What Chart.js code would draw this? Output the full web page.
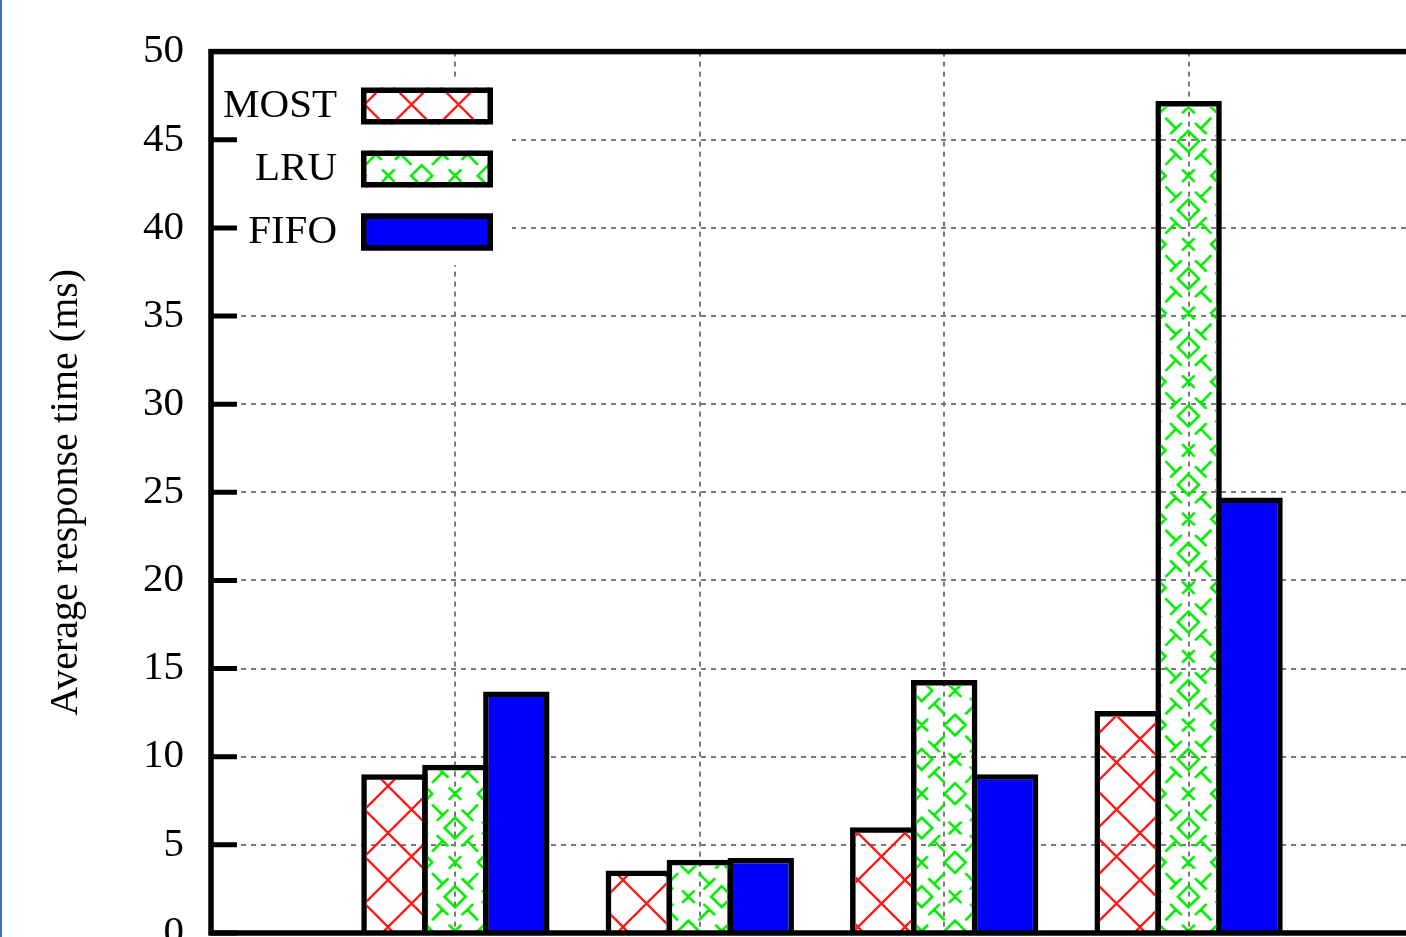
<!DOCTYPE html>
<html>
<head>
<meta charset="utf-8">
<script src="https://cdn.jsdelivr.net/npm/chart.js@4/dist/chart.umd.min.js"></script>
<style>
  html, body { margin: 0; padding: 0; background: #fff; overflow: hidden; width: 1406px; height: 937px; }
  #wrap { position: relative; width: 1406px; height: 937px; overflow: hidden; }
  #edge { position: absolute; left: 0; top: 0; width: 2px; height: 937px; background: #3f6fd0; z-index: 2; }
  canvas { position: absolute; left: 0; top: 0; }
</style>
</head>
<body>
<div id="wrap"><div id="edge"></div><canvas id="c" width="1480" height="1000"></canvas></div>
<script>
// Workload positions on the x axis (0 and 5 are empty margins)
const categories = [1, 2, 3, 4];
const seriesNames = ['MOST', 'LRU', 'FIFO'];
// Average response time (ms)
const mostValues = [9.0, 3.55, 6.0, 12.6];
const lruValues  = [9.55, 4.15, 14.35, 47.2];
const fifoValues = [13.7, 4.25, 9.0, 24.7];
const yTickValues = [0, 5, 10, 15, 20, 25, 30, 35, 40, 45, 50];
const xRange = [0, 5];

const SERIF = "'Liberation Serif', 'DejaVu Serif', serif";
Chart.defaults.font.family = SERIF;

// Red diagonal cross-hatch
function crossHatch() {
  const d = 47;
  const c = document.createElement('canvas');
  c.width = d; c.height = d;
  const g = c.getContext('2d');
  g.strokeStyle = '#ff1a1a';
  g.lineWidth = 2.3;
  g.beginPath();
  for (const k of [-1, 0, 1]) {
    g.moveTo(-2, -2 + k * d); g.lineTo(d + 2, d + 2 + k * d);
  }
  for (const k of [0, 1, 2]) {
    g.moveTo(-2, k * d + 2); g.lineTo(d + 2, k * d - d - 2);
  }
  g.stroke();
  const p = g.createPattern(c, 'repeat');
  p.setTransform(new DOMMatrix().translate(12, -13));
  return p;
}

// Green lattice of diamonds, crosses and capped diagonal arms
function diamondLattice() {
  const W = 200, H = 206;
  const hw = W / 6, hh = H / 6;
  const c = document.createElement('canvas');
  c.width = W; c.height = H;
  const g = c.getContext('2d');
  g.strokeStyle = '#00ea00';
  g.lineWidth = 2.6;
  g.lineCap = 'round';
  const L = Math.hypot(hw, hh);
  g.beginPath();
  for (let i = -1; i <= 7; i++) {
    for (let j = -1; j <= 7; j++) {
      const x = i * hw, y = j * hh;
      if ((i + j) % 2 === 0) {
        const r = 10.5;
        g.moveTo(x, y - r); g.lineTo(x + r, y); g.lineTo(x, y + r); g.lineTo(x - r, y); g.closePath();
        if (Math.abs(i) % 2 === 1) {
          for (const sx of [-1, 1]) for (const sy of [-1, 1]) {
            const ux = sx * hw / L, uy = sy * hh / L;
            const a = 16, b = 30, cap = 7;
            g.moveTo(x + ux * a, y + uy * a);
            g.lineTo(x + ux * b, y + uy * b);
            const ex = x + ux * b, ey = y + uy * b;
            g.moveTo(ex - uy * cap, ey + ux * cap);
            g.lineTo(ex + uy * cap, ey - ux * cap);
          }
        }
      } else {
        const s = 5.5;
        g.moveTo(x - s, y - s); g.lineTo(x + s, y + s);
        g.moveTo(x - s, y + s); g.lineTo(x + s, y - s);
      }
    }
  }
  g.stroke();
  const p = g.createPattern(c, 'repeat');
  p.setTransform(new DOMMatrix().translate(-11.67, 4));
  return p;
}

const fills = [crossHatch(), diamondLattice(), '#0000ff'];
const seriesValues = [mostValues, lruValues, fifoValues];

// Frame, inward ticks and the opaque key box
const framePlugin = {
  id: 'framePlugin',
  afterDatasetsDraw(chart) {
    const { ctx, chartArea: a, scales: { y } } = chart;
    ctx.save();

    // key background
    ctx.fillStyle = '#ffffff';
    ctx.fillRect(a.left + 3, 77, 512 - a.left - 3, 188);

    // y tick marks pointing into the plot
    ctx.strokeStyle = '#000';
    ctx.lineWidth = 5;
    ctx.beginPath();
    y.ticks.forEach(t => {
      const py = y.getPixelForValue(t.value);
      ctx.moveTo(a.left, py);
      ctx.lineTo(a.left + 26, py);
    });
    ctx.stroke();

    // plot border
    ctx.lineWidth = 5.5;
    ctx.strokeRect(a.left, a.top, a.right - a.left, a.bottom - a.top);

    // key entries
    ctx.font = '41px ' + SERIF;
    ctx.textAlign = 'right';
    ctx.textBaseline = 'middle';
    chart.data.datasets.forEach((ds, i) => {
      const cy = 106 + i * 63;
      ctx.fillStyle = '#000';
      ctx.fillText(ds.label, 337, cy);
      const bx = 361, bw = 132, bh = 37, by = cy - bh / 2;
      ctx.fillStyle = ds.backgroundColor;
      ctx.fillRect(bx, by, bw, bh);
      ctx.strokeStyle = '#000';
      ctx.lineWidth = 5.5;
      ctx.strokeRect(bx + 2.75, by + 2.75, bw - 5.5, bh - 5.5);
    });
    ctx.restore();
  }
};

const gridStyle = { color: '#7a7a7a', lineWidth: 2, drawTicks: false, offset: false };
const dashBorder = { display: false, dash: [5, 5] };

new Chart(document.getElementById('c'), {
  type: 'bar',
  data: {
    datasets: seriesNames.map((name, k) => ({
      label: name,
      data: categories.map((c, i) => ({ x: c, y: seriesValues[k][i] })),
      backgroundColor: fills[k],
      borderColor: '#000',
      borderWidth: 5.5,
      barPercentage: 1.09,
      categoryPercentage: 0.748
    }))
  },
  options: {
    responsive: false,
    animation: false,
    layout: { padding: { left: 0, top: 50, right: 47, bottom: 67 } },
    plugins: { legend: { display: false }, tooltip: { enabled: false } },
    scales: {
      x: {
        type: 'linear',
        min: xRange[0],
        max: xRange[1],
        offset: false,
        ticks: { display: false, stepSize: 1 },
        grid: gridStyle,
        border: dashBorder,
        afterFit(s) { s.height = 0; }
      },
      y: {
        min: yTickValues[0],
        max: yTickValues[yTickValues.length - 1],
        afterBuildTicks(s) { s.ticks = yTickValues.map(v => ({ value: v })); },
        ticks: { padding: 27, color: '#000', font: { size: 41, family: SERIF } },
        grid: gridStyle,
        border: dashBorder,
        title: {
          display: true,
          text: 'Average response time (ms)',
          color: '#000',
          font: { size: 40, family: SERIF },
          padding: { top: 42, bottom: 0 }
        },
        afterFit(s) { s.width = 211; }
      }
    }
  },
  plugins: [framePlugin]
});
</script>
</body>
</html>
